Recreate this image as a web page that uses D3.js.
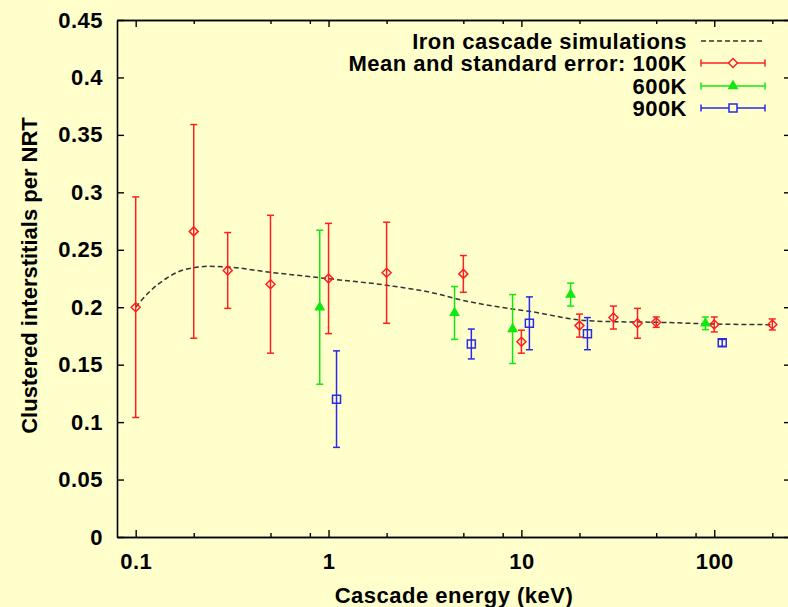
<!DOCTYPE html>
<html>
<head>
<meta charset="utf-8">
<script src="https://cdn.jsdelivr.net/npm/d3@7"></script>
<style>
  html, body { margin: 0; padding: 0; background: #ffffcc; }
  svg { display: block; }
  text { font-family: "Liberation Sans", Arial, sans-serif; font-weight: bold; fill: #000; }
</style>
</head>
<body>
<svg width="788" height="607"></svg>
<script>
//const declaration
const svgWidth = 788;
const svgHeight = 607;
const margin = {"top": 20, "right": -3, "bottom": 70, "left": 117};
const width = svgWidth - margin.left - margin.right;
const height = svgHeight - margin.top - margin.bottom;

//data: simulation curve
const simEnergy = [0.1, 0.118, 0.144, 0.176, 0.2, 0.24, 0.3, 0.5, 1, 2, 3.76, 4.5, 9, 11, 20, 30, 50, 100, 200];
const simValue  = [0.200, 0.2135, 0.225, 0.2324, 0.2344, 0.2356, 0.2350, 0.2304, 0.2248, 0.2191, 0.2112, 0.2077, 0.1984, 0.1964, 0.1889, 0.1874, 0.1869, 0.1854, 0.1848];

//data: mean and standard error, 100K
const energy100 = [0.1, 0.2, 0.3, 0.5, 1, 2, 5, 10, 20, 30, 40, 50, 100, 200];
const mean100   = [0.200, 0.266, 0.232, 0.220, 0.225, 0.230, 0.229, 0.170, 0.184, 0.191, 0.186, 0.187, 0.185, 0.185];
const err100    = [0.096, 0.093, 0.033, 0.060, 0.048, 0.044, 0.016, 0.010, 0.010, 0.010, 0.013, 0.0045, 0.0065, 0.0048];

//data: 600K
const energy600 = [0.9, 4.5, 9, 18, 90];
const mean600   = [0.200, 0.195, 0.181, 0.211, 0.186];
const err600    = [0.067, 0.023, 0.030, 0.010, 0.0055];

//data: 900K
const energy900 = [1.1, 5.5, 11, 22, 110];
const mean900   = [0.120, 0.168, 0.186, 0.177, 0.169];
const err900    = [0.042, 0.013, 0.023, 0.014, 0.003];

//ticks and labels
const yTicks = [0, 0.05, 0.1, 0.15, 0.2, 0.25, 0.3, 0.35, 0.4, 0.45];
const xMajorTicks = [0.1, 1, 10, 100];
const xMinorTicks = [0.2, 0.5, 0.8, 2, 5, 8, 20, 50, 80, 200];
const legendLabels = ["Iron cascade simulations", "Mean and standard error: 100K", "600K", "900K"];

const red = "#ff1f1f";
const green = "#10e810";
const blue = "#2a2ae8";
const fontSize = "22px";

const svg = d3.select("svg");

svg.append("rect")
  .attr("width", svgWidth)
  .attr("height", svgHeight)
  .attr("fill", "#ffffcc");

var chart = svg.append("g")
  .attr("transform", `translate(${margin.left}, ${margin.top})`);

//scales
var xScale = d3.scaleLog()
  .domain([0.08, 250])
  .range([0, width]);

var yScale = d3.scaleLinear()
  .domain([0, 0.45])
  .range([height, 0]);

//axes (ticks point inward on all four sides)
function styleAxis(g) {
  g.attr("font-size", null).attr("font-family", null);
  g.select(".domain").attr("stroke", "#000").attr("stroke-width", 1.6);
  g.selectAll(".tick line").attr("stroke", "#000").attr("stroke-width", 1.4);
  g.selectAll(".tick text").style("font-size", fontSize).style("letter-spacing", "0.5px");
}

chart.append("g")
  .attr("transform", `translate(0, ${height})`)
  .call(d3.axisBottom(xScale).tickValues(xMajorTicks).tickFormat(d3.format("")).tickSizeInner(-7).tickSizeOuter(0).tickPadding(16))
  .call(styleAxis);

chart.append("g")
  .attr("transform", `translate(0, ${height})`)
  .call(d3.axisBottom(xScale).tickValues(xMinorTicks).tickFormat("").tickSizeInner(-4).tickSizeOuter(0))
  .call(styleAxis);

chart.append("g")
  .call(d3.axisTop(xScale).tickValues(xMajorTicks).tickFormat("").tickSizeInner(-7).tickSizeOuter(0))
  .call(styleAxis);

chart.append("g")
  .call(d3.axisTop(xScale).tickValues(xMinorTicks).tickFormat("").tickSizeInner(-4).tickSizeOuter(0))
  .call(styleAxis);

chart.append("g")
  .call(d3.axisLeft(yScale).tickValues(yTicks).tickFormat(d3.format("")).tickSizeInner(-7).tickSizeOuter(0).tickPadding(14))
  .call(styleAxis);

chart.append("g")
  .attr("transform", `translate(${width}, 0)`)
  .call(d3.axisRight(yScale).tickValues(yTicks).tickFormat("").tickSizeInner(-7).tickSizeOuter(0))
  .call(styleAxis);

//axis titles
svg.append("text")
  .attr("x", margin.left + width / 2)
  .attr("y", 603)
  .attr("text-anchor", "middle")
  .style("font-size", fontSize)
  .style("letter-spacing", "0.5px")
  .text("Cascade energy (keV)");

svg.append("text")
  .attr("transform", `translate(37, ${margin.top + height / 2 - 3}) rotate(-90)`)
  .attr("text-anchor", "middle")
  .style("font-size", fontSize)
  .text("Clustered interstitials per NRT");

//simulation curve
var simData = simEnergy.map((e, i) => [e, simValue[i]]);

var line = d3.line()
  .x(d => xScale(d[0]))
  .y(d => yScale(d[1]))
  .curve(d3.curveMonotoneX);

chart.append("path")
  .datum(simData)
  .attr("fill", "none")
  .attr("stroke", "#333")
  .attr("stroke-width", 1.5)
  .attr("stroke-dasharray", "5,3")
  .attr("d", line);

//markers
var diamondPath = "M0,-4.5L4.5,0L0,4.5L-4.5,0Z";
var trianglePath = d3.symbol().type(d3.symbolTriangle).size(30)();
var squarePath = d3.symbol().type(d3.symbolSquare).size(64)();

var series = [
  {"energy": energy100, "mean": mean100, "err": err100, "color": red, "marker": diamondPath, "filled": false},
  {"energy": energy600, "mean": mean600, "err": err600, "color": green, "marker": trianglePath, "filled": true},
  {"energy": energy900, "mean": mean900, "err": err900, "color": blue, "marker": squarePath, "filled": false}
];

const capHalf = 3.5;

series.forEach(s => {
  var pts = s.energy.map((e, i) => ({"e": e, "m": s.mean[i], "se": s.err[i]}));
  var g = chart.append("g")
    .attr("stroke", s.color)
    .attr("stroke-width", 1.5);

  var bars = g.selectAll(".bar")
    .data(pts)
    .enter()
    .append("g");

  bars.append("line")
    .attr("x1", d => xScale(d.e))
    .attr("x2", d => xScale(d.e))
    .attr("y1", d => yScale(d.m - d.se))
    .attr("y2", d => yScale(d.m + d.se));

  bars.append("line")
    .attr("x1", d => xScale(d.e) - capHalf)
    .attr("x2", d => xScale(d.e) + capHalf)
    .attr("y1", d => yScale(d.m + d.se))
    .attr("y2", d => yScale(d.m + d.se));

  bars.append("line")
    .attr("x1", d => xScale(d.e) - capHalf)
    .attr("x2", d => xScale(d.e) + capHalf)
    .attr("y1", d => yScale(d.m - d.se))
    .attr("y2", d => yScale(d.m - d.se));

  bars.append("path")
    .attr("d", s.marker)
    .attr("transform", d => `translate(${xScale(d.e)}, ${yScale(d.m)})`)
    .attr("fill", s.filled ? s.color : "none");
});

//legend
const legendX1 = 701;
const legendX2 = 765;
const legendTextX = 687;
var legendY = [41, 63, 86, 108];

legendLabels.forEach((label, i) => {
  svg.append("text")
    .attr("x", legendTextX)
    .attr("y", legendY[i] + 8)
    .attr("text-anchor", "end")
    .style("font-size", fontSize)
    .style("letter-spacing", "0.5px")
    .text(label);
});

svg.append("line")
  .attr("x1", legendX1)
  .attr("x2", legendX2)
  .attr("y1", legendY[0])
  .attr("y2", legendY[0])
  .attr("stroke", "#333")
  .attr("stroke-width", 1.5)
  .attr("stroke-dasharray", "5,3");

series.forEach((s, i) => {
  var y = legendY[i + 1];
  var g = svg.append("g")
    .attr("stroke", s.color)
    .attr("stroke-width", 1.5);
  g.append("line").attr("x1", legendX1).attr("x2", legendX2).attr("y1", y).attr("y2", y);
  g.append("line").attr("x1", legendX1).attr("x2", legendX1).attr("y1", y - capHalf).attr("y2", y + capHalf);
  g.append("line").attr("x1", legendX2).attr("x2", legendX2).attr("y1", y - capHalf).attr("y2", y + capHalf);
  g.append("path")
    .attr("d", s.marker)
    .attr("transform", `translate(${(legendX1 + legendX2) / 2}, ${y})`)
    .attr("fill", s.filled ? s.color : "#ffffcc");
});
</script>
</body>
</html>
